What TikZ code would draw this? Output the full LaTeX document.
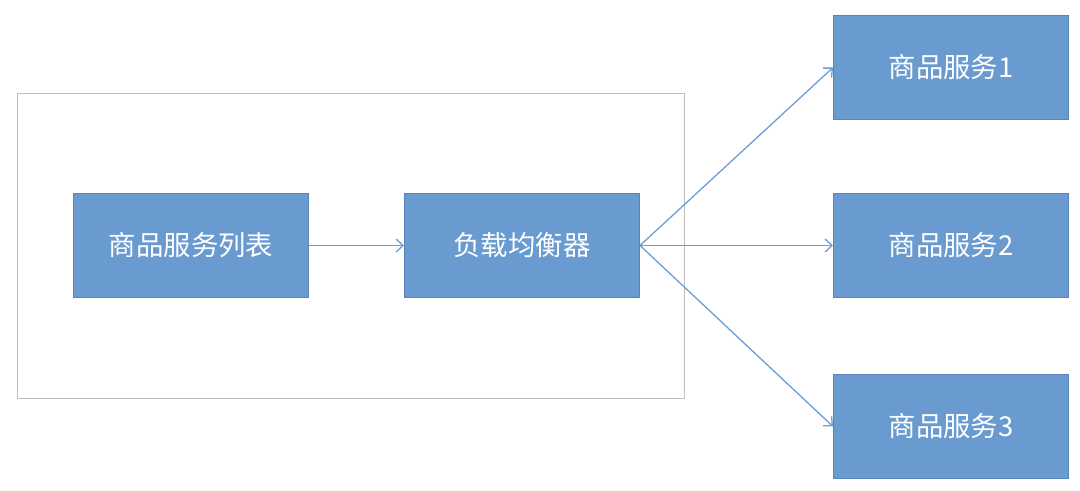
\documentclass[tikz,border=0pt]{standalone}
\usepackage{fontspec}
\newfontfamily\cjk{Noto Sans CJK SC}
\usetikzlibrary{arrows.meta}
\definecolor{boxfill}{RGB}{106,155,208}
\definecolor{boxline}{RGB}{88,132,184}
\definecolor{arrowc}{RGB}{108,158,212}
\definecolor{frame}{RGB}{190,190,190}
\tikzset{
  svc/.style={draw=boxline, line width=1bp, fill=boxfill, minimum width=235bp, minimum height=104bp,
    inner sep=0pt, text=white, font=\cjk\fontsize{27.5}{32}\selectfont},
  conn/.style={draw=arrowc, line width=1.3bp, -{Straight Barb[length=7bp,width=13bp,line width=1.3bp]}},
}
\begin{document}
\begin{tikzpicture}[x=1bp,y=-1bp]
\useasboundingbox (0,0) rectangle (1080,491);
\node[draw=frame, line width=1.2bp, minimum width=667bp, minimum height=305bp, inner sep=0pt, anchor=north west] (frame) at (17,93) {};
\node[svc, anchor=north west] (list) at (73,193) {商品服务列表};
\node[svc, anchor=north west] (lb) at (404,193) {负载均衡器};
\node[svc, anchor=north west] (s1) at (833,15) {商品服务1};
\node[svc, anchor=north west] (s2) at (833,193) {商品服务2};
\node[svc, anchor=north west] (s3) at (833,374) {商品服务3};
\draw[conn] (list.east) -- (lb.west);
\draw[conn] (lb.east) -- (s1.west);
\draw[conn] (lb.east) -- (s2.west);
\draw[conn] (lb.east) -- (s3.west);
\end{tikzpicture}
\end{document}
